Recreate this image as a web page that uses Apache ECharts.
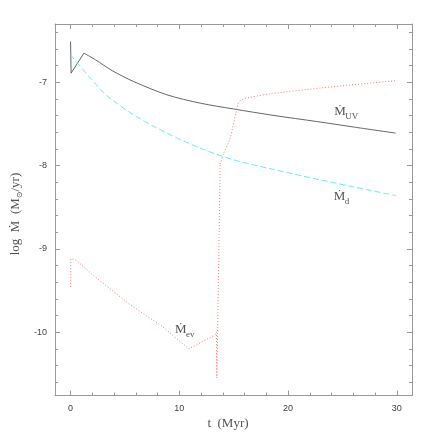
<!DOCTYPE html>
<html><head><meta charset="utf-8">
<script src="https://cdn.jsdelivr.net/npm/echarts@6/dist/echarts.min.js"></script>
<style>html,body{margin:0;padding:0;background:#fff}#c{width:436px;height:436px}</style>
</head><body><div id="c"></div>
<script>
// ---- data ----
// M_UV: initial spike, then smooth decay
const tUVspike = [0, 0.05, 1.23];
const mUVspike = [-6.51, -6.89, -6.65];
const tUV = [1.23, 2.3, 3.83, 5.79, 8.86, 11.92, 14.98, 18.8, 22.6, 26.2, 29.9];
const mUV = [-6.65, -6.73, -6.86, -6.99, -7.15, -7.25, -7.32, -7.40, -7.47, -7.54, -7.61];

// M_d
const tD = [0, 1.69, 2.73, 3.22, 5.79, 8.86, 11.92, 14.98, 18.8, 22.6, 26.2, 29.9];
const mD = [-6.67, -6.93, -7.08, -7.15, -7.39, -7.61, -7.79, -7.93, -8.05, -8.16, -8.26, -8.36];

// M_ev: broken part, then knee + tail
const tEv = [0, 0.03, 0.15, 0.46, 2.3, 5.37, 8.43, 10.88, 13.33, 13.42, 13.45, 13.55, 13.76];
const mEv = [-9.46, -9.12, -9.11, -9.13, -9.34, -9.66, -9.93, -10.20, -10.03, -10.0, -10.55, -9.78, -7.98];
const tEvTail = [13.76, 14.06, 14.68, 15.44, 15.9, 18.3, 22.9, 29.9];
const mEvTail = [-7.98, -7.86, -7.67, -7.25, -7.20, -7.14, -7.07, -6.98];

const xMajor = [0, 10, 20, 30];
const xMinor = [2, 4, 6, 8, 12, 14, 16, 18, 22, 24, 26, 28];
const yMajor = [-10, -9, -8, -7];
const yMinor = [-10.6, -10.4, -10.2, -9.8, -9.6, -9.4, -9.2, -8.8, -8.6, -8.4, -8.2, -7.8, -7.6, -7.4, -7.2, -6.8, -6.6, -6.4];

const curveLabels = [
  { main: 'Ṁ', sub: 'UV', t: 24.26, v: -7.43 },
  { main: 'Ṁ', sub: 'd', t: 24.2, v: -8.45 },
  { main: 'Ṁ', sub: 'ev', t: 9.6, v: -10.05 }
];

// ---- chart ----
const X_MIN = -1.43, X_MAX = 31.4, Y_MIN = -10.76, Y_MAX = -6.30;
const AX = '#999';
const LBL = '#444';
const SERIF = "'Liberation Serif','DejaVu Serif',serif";
const SANS = "'Liberation Sans','DejaVu Sans',sans-serif";
const gridRect = { left: 55, top: 24, width: 357, height: 371.5 };

function xAx(grid, pos, ticks, len, labels, line) {
  return {
    type: 'value', gridIndex: grid, position: pos, min: X_MIN, max: X_MAX,
    splitLine: { show: false },
    axisLine: { show: line, onZero: false, lineStyle: { color: AX, width: 1 } },
    axisTick: { show: true, inside: true, length: len, customValues: ticks, lineStyle: { color: AX } },
    axisLabel: labels ? { show: true, customValues: labels, margin: 9, color: LBL, fontSize: 9, fontFamily: SANS } : { show: false }
  };
}
function yAx(grid, pos, ticks, len, labels, line) {
  return {
    type: 'value', gridIndex: grid, position: pos, min: Y_MIN, max: Y_MAX,
    splitLine: { show: false },
    axisLine: { show: line, onZero: false, lineStyle: { color: AX, width: 1 } },
    axisTick: { show: true, inside: true, length: len, customValues: ticks, lineStyle: { color: AX } },
    axisLabel: labels ? { show: true, customValues: labels, margin: 8, color: LBL, fontSize: 9, fontFamily: SANS } : { show: false }
  };
}
function pairs(t, v) { return t.map((x, i) => [x, v[i]]); }

const UVSTYLE = { color: '#666', width: 1 };
const DSTYLE = { color: '#66eeee', width: 1, type: [6, 3] };
const EVSTYLE = { color: '#ff7777', width: 1, type: [1, 2] };

const chart = echarts.init(document.getElementById('c'), null, { renderer: 'canvas' });
chart.setOption({
  animation: false,
  backgroundColor: '#fff',
  grid: [
    Object.assign({}, gridRect),
    Object.assign({}, gridRect)
  ],
  xAxis: [
    xAx(0, 'bottom', xMajor, 5, xMajor, true),
    xAx(0, 'top', xMajor, 5, null, true),
    xAx(1, 'bottom', xMinor, 3, null, false),
    xAx(1, 'top', xMinor, 3, null, false)
  ],
  yAxis: [
    yAx(0, 'left', yMajor, 5, yMajor, true),
    yAx(0, 'right', yMajor, 5, null, true),
    yAx(1, 'left', yMinor, 3, null, false),
    yAx(1, 'right', yMinor, 3, null, false)
  ],
  series: [
    { type: 'line', data: pairs(tUVspike, mUVspike), showSymbol: false, lineStyle: UVSTYLE },
    { type: 'line', data: pairs(tUV, mUV), showSymbol: false, smooth: 0.3, lineStyle: UVSTYLE },
    { type: 'line', data: pairs(tD, mD), showSymbol: false, smooth: 0.3, lineStyle: DSTYLE },
    { type: 'line', data: pairs(tEv, mEv), showSymbol: false, lineStyle: EVSTYLE },
    { type: 'line', data: pairs(tEvTail, mEvTail), showSymbol: false, smooth: 0.25, lineStyle: EVSTYLE }
  ]
});

const g = [];
curveLabels.forEach(l => {
  const p = chart.convertToPixel({ xAxisIndex: 0, yAxisIndex: 0 }, [l.t, l.v]);
  g.push({ type: 'text', x: p[0], y: p[1], style: { text: l.main, font: '13px ' + SERIF, fill: '#555', verticalAlign: 'bottom', align: 'left' } });
  g.push({ type: 'text', x: p[0] + 11, y: p[1] + 3, style: { text: l.sub, font: '9px ' + SERIF, fill: '#555', verticalAlign: 'bottom', align: 'left' } });
});
// axis titles
g.push({ type: 'text', x: 228, y: 424, style: { text: 't  (Myr)', font: '13px ' + SERIF, fill: '#555', align: 'center', verticalAlign: 'middle' } });
g.push({
  type: 'text', x: 16, y: 214, rotation: Math.PI / 2,
  style: {
    text: '{a|log  Ṁ  (M}{b|⊙}{a|/yr)}', align: 'center', verticalAlign: 'middle',
    rich: {
      a: { font: '13px ' + SERIF, fill: '#555', lineHeight: 16, verticalAlign: 'middle' },
      b: { font: '8px ' + SERIF, fill: '#555', lineHeight: 16, verticalAlign: 'bottom' }
    }
  }
});
chart.setOption({ graphic: g });
</script>
</body></html>
